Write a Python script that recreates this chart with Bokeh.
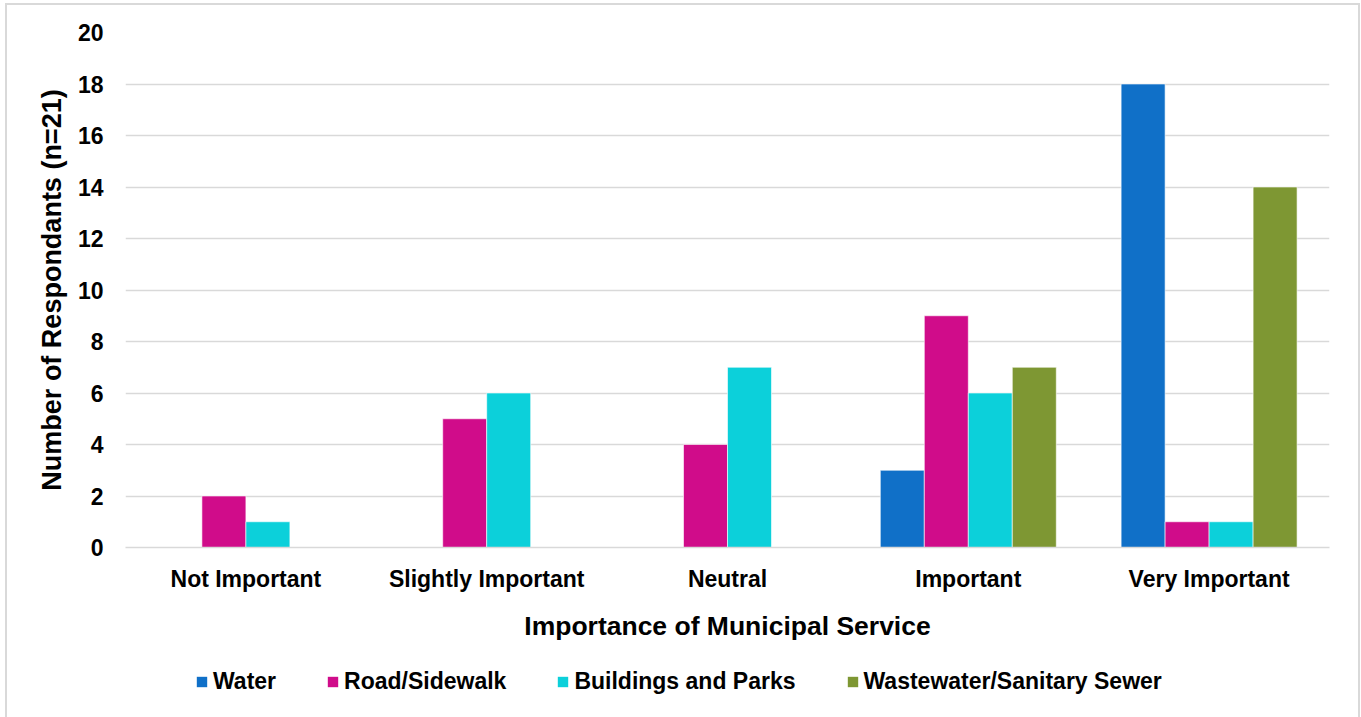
from bokeh.plotting import figure
from bokeh.layouts import column
from bokeh.models import ColumnDataSource, FactorRange, Range1d, FixedTicker, Legend, LegendItem
from bokeh.transform import dodge
from bokeh.embed import file_html
from bokeh.resources import INLINE

categories = ["Not Important", "Slightly Important", "Neutral", "Important", "Very Important"]
series = ["Water", "Road/Sidewalk", "Buildings and Parks", "Wastewater/Sanitary Sewer"]
water = [0, 0, 0, 3, 18]
road = [2, 5, 4, 9, 1]
buildings = [1, 6, 7, 6, 1]
wastewater = [0, 0, 0, 7, 14]
y_ticks = [0, 2, 4, 6, 8, 10, 12, 14, 16, 18, 20]
colors = ["#1070C8", "#D00C8A", "#0CD0DA", "#7E9733"]
fields = ["water", "road", "buildings", "wastewater"]

src = ColumnDataSource(dict(cat=categories, water=water, road=road,
                            buildings=buildings, wastewater=wastewater))

W = 1351
p = figure(x_range=FactorRange(*categories, range_padding=0), y_range=Range1d(0, 20),
           width=W, height=650, output_backend="svg", toolbar_location=None,
           min_border_left=118, min_border_right=29, min_border_top=27, min_border_bottom=108)
p.outline_line_color = None
p.border_fill_color = "white"

bw = 0.1827
offsets = [-1.5 * bw, -0.5 * bw, 0.5 * bw, 1.5 * bw]
for f, off, c in zip(fields, offsets, colors):
    p.vbar(x=dodge("cat", off, range=p.x_range), top=f, width=bw, source=src,
           fill_color=c, line_color="white", line_width=0.6)

p.xgrid.grid_line_color = None
p.ygrid.grid_line_color = "#d9d9d9"
p.ygrid.grid_line_width = 1.5
p.yaxis.ticker = FixedTicker(ticks=y_ticks)

font = "Liberation Sans"
for ax in (p.xaxis[0], p.yaxis[0]):
    ax.major_tick_line_color = None
    ax.minor_tick_line_color = None
    ax.major_label_text_font = font
    ax.major_label_text_font_style = "bold"
    ax.major_label_text_color = "black"
    ax.axis_label_text_font = font
    ax.axis_label_text_font_style = "bold"
    ax.axis_label_text_color = "black"

p.yaxis.axis_line_color = None
p.xaxis.axis_line_color = "#d9d9d9"
p.xaxis.axis_line_width = 1.5
p.xaxis.major_label_text_font_size = "23px"
p.yaxis.major_label_text_font_size = "23px"
p.xaxis.major_label_standoff = 12
p.yaxis.major_label_standoff = 16
p.xaxis.axis_label = "Importance of Municipal Service"
p.yaxis.axis_label = "Number of Respondants (n=21)"
p.xaxis.axis_label_text_font_size = "26.5px"
p.yaxis.axis_label_text_font_size = "27px"
p.xaxis.axis_label_standoff = 16
p.yaxis.axis_label_standoff = 8

# legend strip: same series drawn in a range that keeps bars out of view
leg = figure(x_range=FactorRange(*categories, range_padding=0), y_range=Range1d(100, 101),
             width=W, height=62, output_backend="svg", toolbar_location=None,
             x_axis_location=None, y_axis_location=None,
             min_border_left=0, min_border_right=0, min_border_top=0, min_border_bottom=0)
leg.outline_line_color = None
leg.xgrid.visible = False
leg.ygrid.visible = False
rends = []
for f, off, c in zip(fields, offsets, colors):
    rends.append(leg.vbar(x=dodge("cat", off, range=leg.x_range), top=f, width=bw,
                          source=src, fill_color=c, line_color=None))

legend = Legend(items=[LegendItem(label=s, renderers=[r]) for s, r in zip(series, rends)],
                orientation="horizontal", location=(70, 22),
                glyph_width=13, glyph_height=13, label_standoff=5, spacing=50,
                padding=0, margin=0, border_line_color=None, background_fill_alpha=0,
                label_text_font=font, label_text_font_style="bold",
                label_text_font_size="23px", label_text_color="black")
leg.add_layout(legend, "center")

layout = column(p, leg, spacing=0)
layout.styles = {"margin-left": "5px", "margin-top": "3px", "border": "2px solid #d9d9d9",
                 "border-bottom": "none", "background": "white"}

open("out.html", "w").write(file_html(layout, INLINE))
